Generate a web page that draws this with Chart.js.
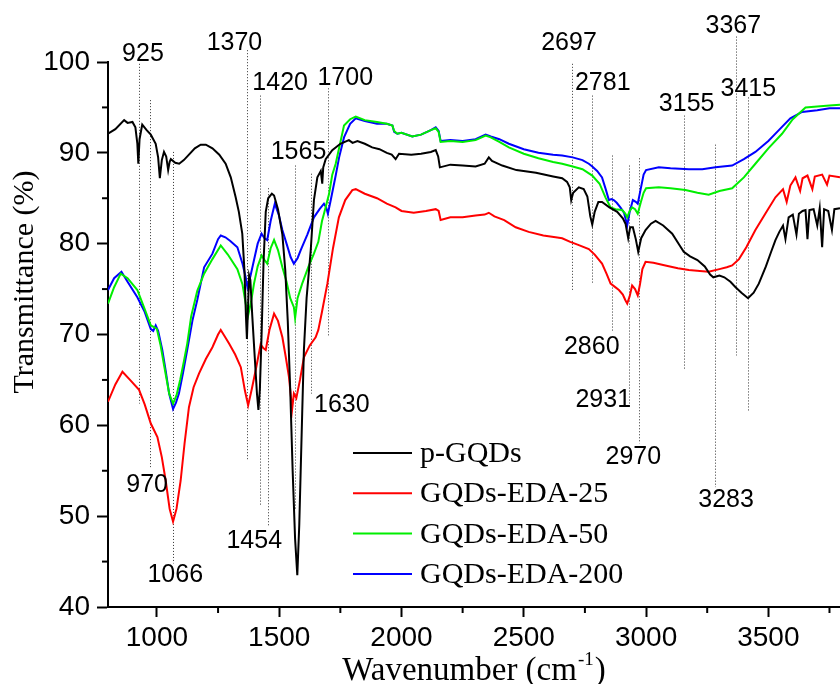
<!DOCTYPE html>
<html>
<head>
<meta charset="utf-8">
<script src="https://cdn.jsdelivr.net/npm/chart.js@4.4.0/dist/chart.umd.min.js"></script>
<style>
  html, body { margin: 0; padding: 0; background: #fff; }
  canvas { display: block; }
</style>
</head>
<body>
<canvas id="ftirChart" width="840" height="684"></canvas>
<script>
// FTIR spectra: wavenumber (cm-1) against transmittance (%)
const pgqdsWn = [800, 830, 866, 880, 900, 912, 920, 924, 929, 940, 958, 975, 995, 1005, 1012, 1020, 1029, 1038, 1046, 1052,
  1057, 1075, 1091, 1110, 1131, 1155, 1179, 1200, 1227, 1255, 1281, 1302, 1322, 1335, 1349, 1358, 1364, 1368, 1372, 1377,
  1382, 1390, 1400, 1409, 1415, 1421, 1428, 1436, 1445, 1455, 1470, 1479, 1495, 1513, 1525, 1535, 1545, 1555, 1565, 1574,
  1582, 1594, 1601, 1612, 1629, 1642, 1656, 1670, 1676, 1680, 1690, 1717, 1750, 1785, 1800, 1820, 1850, 1880, 1910, 1940,
  1960, 1976, 1990, 2040, 2080, 2120, 2140, 2150, 2157, 2200, 2250, 2303, 2340, 2357, 2370, 2412, 2470, 2550, 2620, 2657,
  2677, 2688, 2694, 2702, 2725, 2745, 2760, 2772, 2780, 2790, 2805, 2820, 2850, 2882, 2905, 2916, 2927, 2935, 2946, 2958,
  2968, 2980, 2998, 3020, 3039, 3070, 3107, 3135, 3154, 3180, 3210, 3240, 3262, 3275, 3300, 3320, 3345, 3366, 3390, 3417,
  3440, 3461, 3490, 3510, 3529, 3545, 3560, 3570, 3583, 3600, 3615, 3625, 3640, 3652, 3660, 3668, 3685, 3700, 3710, 3720,
  3728, 3745, 3760, 3770, 3793];
const pgqdsT = [92.1, 92.6, 93.6, 93.3, 93.4, 92.8, 91.0, 88.8, 91.5, 93.1, 92.5, 92.0, 91.0, 89.5, 87.2, 89.2, 90.1, 89.6, 88.1, 89.0,
  89.3, 88.9, 88.8, 89.2, 89.8, 90.5, 90.9, 90.9, 90.5, 89.8, 88.8, 87.3, 85.1, 83.5, 81.1, 77.0, 72.0, 69.5, 72.5, 76.5,
  76.0, 72.0, 67.5, 63.5, 61.7, 64.0, 70.0, 78.0, 83.5, 85.0, 85.5, 85.3, 83.8, 81.0, 77.0, 71.5, 64.0, 55.0, 47.5, 43.5,
  49.0, 61.3, 68.3, 74.0, 79.3, 84.8, 87.3, 88.0, 86.6, 88.4, 89.3, 90.3, 91.0, 91.4, 91.1, 91.3, 91.0, 90.6, 90.4, 90.0,
  89.8, 89.3, 89.9, 89.8, 89.9, 90.1, 90.3, 89.6, 88.4, 88.7, 88.6, 88.5, 88.8, 89.5, 89.1, 88.6, 88.1, 87.8, 87.4, 87.2,
  86.8, 86.2, 84.8, 85.6, 86.2, 86.0, 85.2, 83.0, 82.1, 83.5, 84.6, 84.6, 84.0, 83.5, 82.8, 82.2, 80.6, 81.8, 81.8, 80.5,
  79.1, 80.6, 81.5, 82.2, 82.5, 82.0, 81.1, 79.9, 79.1, 78.6, 78.2, 77.5, 76.6, 76.3, 76.5, 76.3, 75.8, 75.2, 74.6, 74.0,
  74.6, 75.6, 77.5, 79.0, 80.4, 81.3, 82.0, 80.5, 82.9, 83.2, 81.0, 83.3, 83.6, 83.7, 80.5, 83.7, 83.8, 82.0, 83.9, 79.6,
  83.8, 83.6, 81.5, 83.8, 83.9];

const eda25Wn = [800, 830, 859, 890, 927, 950, 975, 1002, 1020, 1036, 1052, 1066, 1080, 1097, 1113, 1131, 1150, 1172, 1200, 1227,
  1250, 1261, 1275, 1295, 1320, 1343, 1360, 1373, 1388, 1404, 1424, 1435, 1445, 1460, 1479, 1495, 1513, 1527, 1540, 1553,
  1560, 1570, 1585, 1601, 1625, 1649, 1660, 1675, 1697, 1720, 1744, 1770, 1799, 1813, 1850, 1900, 1940, 1976, 2000, 2050,
  2100, 2140, 2152, 2160, 2200, 2250, 2303, 2340, 2357, 2380, 2420, 2467, 2520, 2580, 2630, 2657, 2690, 2720, 2766, 2790,
  2820, 2840, 2855, 2870, 2889, 2905, 2915, 2923, 2933, 2943, 2955, 2966, 2975, 2985, 2998, 3030, 3079, 3130, 3175, 3220,
  3256, 3300, 3330, 3352, 3380, 3410, 3447, 3490, 3529, 3560, 3575, 3590, 3611, 3630, 3640, 3660, 3680, 3690, 3720, 3740,
  3750, 3793];
const eda25T = [62.6, 64.5, 65.9, 65.0, 63.9, 62.3, 60.2, 58.7, 56.5, 53.9, 50.8, 49.4, 50.8, 53.9, 58.0, 62.0, 64.2, 65.7, 67.3, 68.6,
  70.0, 70.5, 69.9, 69.0, 67.8, 66.4, 63.8, 62.2, 64.0, 66.1, 68.9, 68.5, 68.3, 70.5, 72.3, 71.5, 69.7, 67.5, 65.3, 61.8,
  63.5, 63.0, 65.0, 67.5, 68.8, 69.7, 70.5, 72.5, 75.6, 79.5, 82.9, 84.8, 85.9, 86.0, 85.5, 85.0, 84.4, 84.0, 83.6, 83.4,
  83.6, 83.8, 83.6, 82.6, 82.9, 82.9, 83.1, 83.2, 83.4, 83.0, 82.6, 81.8, 81.3, 80.9, 80.7, 80.6, 80.2, 79.9, 79.4, 78.8,
  77.8, 76.6, 75.6, 75.3, 74.9, 74.4, 73.8, 73.4, 74.2, 75.4, 75.0, 74.3, 75.5, 77.2, 78.0, 77.9, 77.6, 77.3, 77.1, 77.0,
  76.9, 77.2, 77.4, 77.6, 78.3, 79.6, 81.5, 83.4, 85.1, 86.0, 84.6, 86.4, 87.3, 85.8, 87.2, 87.5, 86.0, 87.4, 87.6, 86.5,
  87.5, 87.3];

const eda50Wn = [800, 825, 852, 880, 920, 950, 975, 990, 1000, 1015, 1030, 1050, 1066, 1080, 1095, 1110, 1124, 1140, 1165, 1193,
  1227, 1261, 1290, 1329, 1350, 1363, 1373, 1385, 1397, 1412, 1428, 1440, 1451, 1465, 1479, 1495, 1513, 1530, 1545, 1560,
  1565, 1575, 1594, 1620, 1642, 1660, 1675, 1683, 1704, 1717, 1731, 1765, 1790, 1813, 1850, 1900, 1940, 1963, 1970, 1983,
  2000, 2044, 2080, 2120, 2140, 2152, 2160, 2200, 2250, 2303, 2344, 2365, 2400, 2439, 2500, 2560, 2620, 2657, 2700, 2740,
  2780, 2810, 2834, 2855, 2875, 2902, 2915, 2923, 2933, 2943, 2955, 2966, 2978, 2990, 3000, 3052, 3100, 3161, 3210, 3256,
  3300, 3352, 3400, 3447, 3500, 3556, 3600, 3652, 3700, 3750, 3793];
const eda50T = [73.4, 75.2, 76.7, 76.2, 74.9, 72.8, 71.0, 70.8, 70.6, 68.8, 66.5, 63.5, 62.4, 63.3, 65.0, 67.0, 69.0, 72.0, 74.8, 76.7,
  78.3, 79.8, 78.8, 77.2, 75.5, 73.4, 72.1, 73.6, 75.6, 77.5, 78.7, 78.2, 77.8, 79.5, 80.4, 79.3, 77.4, 75.8, 74.0, 73.0,
  71.8, 74.0, 75.6, 77.5, 78.9, 80.2, 82.5, 83.3, 85.5, 87.6, 88.8, 93.0, 93.7, 94.0, 93.6, 93.4, 93.2, 93.0, 92.4, 92.1,
  92.2, 91.8, 92.0, 92.5, 92.7, 92.3, 91.2, 91.3, 91.2, 91.4, 91.9, 91.7, 91.2, 90.6, 89.9, 89.4, 89.0, 88.8, 88.5, 88.2,
  87.5, 86.6, 85.1, 84.0, 83.8, 83.7, 83.3, 82.9, 83.6, 84.0, 83.8, 83.3, 84.5, 85.6, 86.1, 86.2, 86.1, 85.9, 85.6, 85.4,
  85.8, 86.1, 87.3, 88.8, 90.5, 92.1, 93.7, 95.0, 95.1, 95.2, 95.3];

const eda200Wn = [800, 825, 855, 880, 920, 950, 975, 985, 995, 1005, 1022, 1036, 1050, 1066, 1078, 1090, 1107, 1124, 1145, 1165,
  1193, 1227, 1250, 1261, 1280, 1300, 1329, 1350, 1363, 1370, 1383, 1397, 1412, 1428, 1440, 1451, 1465, 1482, 1498, 1513,
  1530, 1547, 1560, 1575, 1588, 1615, 1642, 1665, 1683, 1692, 1699, 1710, 1731, 1745, 1765, 1790, 1813, 1850, 1900, 1940,
  1963, 1970, 1983, 2000, 2044, 2080, 2120, 2140, 2152, 2160, 2200, 2250, 2303, 2344, 2365, 2400, 2439, 2500, 2560, 2620,
  2657, 2700, 2740, 2766, 2780, 2800, 2820, 2835, 2848, 2858, 2868, 2880, 2895, 2910, 2923, 2933, 2946, 2958, 2966, 2978,
  2990, 3000, 3052, 3100, 3175, 3230, 3284, 3352, 3400, 3447, 3500, 3543, 3590, 3638, 3700, 3750, 3793];
const eda200T = [74.9, 76.2, 76.9, 75.8, 74.1, 72.5, 70.6, 70.4, 71.0, 70.4, 68.3, 66.0, 63.5, 61.8, 62.5, 63.5, 65.8, 68.3, 71.5, 73.8,
  77.4, 78.9, 80.5, 80.9, 80.7, 80.3, 79.6, 77.8, 76.3, 75.2, 76.5, 78.2, 80.0, 81.1, 80.6, 80.4, 82.5, 84.4, 83.2, 81.5,
  80.0, 78.5, 77.8, 78.4, 79.3, 81.0, 82.9, 83.8, 84.4, 84.0, 83.3, 84.7, 87.5, 89.5, 91.7, 93.2, 93.8, 93.5, 93.2, 93.2,
  93.0, 92.3, 92.1, 92.2, 91.8, 92.0, 92.5, 92.8, 92.4, 91.3, 91.4, 91.3, 91.5, 92.0, 91.8, 91.5, 91.0, 90.4, 90.0, 89.8,
  89.7, 89.5, 89.2, 88.8, 88.5, 88.0, 87.3, 86.0, 84.8, 84.9, 84.8, 84.5, 84.0, 83.4, 82.0, 83.5, 84.8, 84.6, 84.4, 86.0,
  87.6, 88.1, 88.4, 88.3, 88.2, 88.2, 88.4, 88.6, 89.3, 90.1, 91.3, 92.5, 93.8, 94.5, 94.7, 94.9, 94.9];

const seriesNames = ['p-GQDs', 'GQDs-EDA-25', 'GQDs-EDA-50', 'GQDs-EDA-200'];

// marked bands: wavenumber, dotted guide from top to bottom (%), label anchor (cm-1, %)
const peakWn = [925, 970, 1066, 1370, 1420, 1454, 1565, 1630, 1700, 2697, 2781, 2860, 2931, 2970, 3155, 3283, 3367, 3415];
const peakTop = [99.8, 95.8, 90.1, 101.3, 96.3, 86.1, 88.6, 87.7, 97.1, 99.8, 96.3, 89.7, 88.6, 89.4, 94.1, 90.9, 102.8, 96.1];
const peakBottom = [62.4, 55.4, 44.8, 56.1, 51.2, 49.0, 50.7, 63.5, 69.9, 74.7, 75.5, 70.4, 62.4, 58.0, 66.1, 53.2, 67.7, 61.6];
const labelWn = [943, 960, 1075, 1317, 1504, 1398, 1579, 1756, 1770, 2685, 2823, 2778, 2825, 2948, 3166, 3327, 3357, 3418];
const labelT = [100.9, 53.4, 43.5, 102.1, 97.7, 47.3, 90.1, 62.2, 98.2, 102.1, 97.7, 68.6, 62.8, 56.5, 95.4, 51.8, 104.0, 97.0];

const xMajor = [1000, 1500, 2000, 2500, 3000, 3500];
const xMinor = [1250, 1750, 2250, 2750, 3250, 3750];
const yMajor = [40, 50, 60, 70, 80, 90, 100];
const yMinor = [45, 55, 65, 75, 85, 95];

const lineColors = ['#000000', '#ff0000', '#00ee00', '#0000ff'];

function pairs(xs, ys) {
  return xs.map(function (x, i) { return { x: x, y: ys[i] }; });
}

const sansFont = '"Liberation Sans", Arial, sans-serif';
const serifFont = '"Liberation Serif", "Times New Roman", serif';

// dotted guides, band labels, minor ticks, legend and axis titles
const decorations = {
  id: 'decorations',
  beforeDatasetsDraw: function (chart) {
    const ctx = chart.ctx, xs = chart.scales.x, ys = chart.scales.y;
    ctx.save();
    ctx.strokeStyle = '#333';
    ctx.lineWidth = 1;
    ctx.setLineDash([1, 2]);
    peakWn.forEach(function (wn, i) {
      const px = Math.round(xs.getPixelForValue(wn)) + 0.5;
      ctx.beginPath();
      ctx.moveTo(px, ys.getPixelForValue(peakTop[i]));
      ctx.lineTo(px, ys.getPixelForValue(peakBottom[i]));
      ctx.stroke();
    });
    ctx.restore();
  },
  afterDraw: function (chart) {
    const ctx = chart.ctx, xs = chart.scales.x, ys = chart.scales.y, area = chart.chartArea;
    ctx.save();

    // band labels
    ctx.fillStyle = '#000';
    ctx.font = '25px ' + sansFont;
    ctx.textAlign = 'center';
    ctx.textBaseline = 'middle';
    peakWn.forEach(function (wn, i) {
      ctx.fillText(String(wn), xs.getPixelForValue(labelWn[i]), ys.getPixelForValue(labelT[i]));
    });

    // minor ticks
    ctx.strokeStyle = '#000';
    ctx.lineWidth = 2;
    xMinor.forEach(function (v) {
      const px = xs.getPixelForValue(v);
      ctx.beginPath();
      ctx.moveTo(px, area.bottom);
      ctx.lineTo(px, area.bottom + 6);
      ctx.stroke();
    });
    yMinor.forEach(function (v) {
      const py = ys.getPixelForValue(v);
      ctx.beginPath();
      ctx.moveTo(area.left, py);
      ctx.lineTo(area.left - 6, py);
      ctx.stroke();
    });

    // legend
    ctx.font = '30px ' + serifFont;
    ctx.textAlign = 'left';
    ctx.textBaseline = 'alphabetic';
    const legX = area.left + 245, legY = area.top + 391;
    chart.data.datasets.forEach(function (ds, i) {
      const y = legY + i * 40.3;
      ctx.strokeStyle = ds.borderColor;
      ctx.lineWidth = 2;
      ctx.beginPath();
      ctx.moveTo(legX, y);
      ctx.lineTo(legX + 59, y);
      ctx.stroke();
      ctx.fillText(ds.label, legX + 67, y + 9);
    });

    // y title
    ctx.save();
    ctx.translate(33, 282);
    ctx.rotate(-Math.PI / 2);
    ctx.textAlign = 'center';
    ctx.fillText('Transmittance (%)', 0, 0);
    ctx.restore();

    // x title with superscript
    const main = 'Wavenumber (cm', sup = '-1', tail = ')';
    ctx.font = '33px ' + serifFont;
    const wMain = ctx.measureText(main).width, wTail = ctx.measureText(tail).width;
    ctx.font = '19px ' + serifFont;
    const wSup = ctx.measureText(sup).width;
    let tx = (area.left + area.right) / 2 - (wMain + wSup + wTail + 2) / 2;
    const base = 680;
    ctx.textAlign = 'left';
    ctx.font = '33px ' + serifFont;
    ctx.fillText(main, tx, base);
    tx += wMain + 1;
    ctx.font = '19px ' + serifFont;
    ctx.fillText(sup, tx, base - 15);
    tx += wSup + 1;
    ctx.font = '33px ' + serifFont;
    ctx.fillText(tail, tx, base);

    ctx.restore();
  }
};

const datasets = [
  pairs(pgqdsWn, pgqdsT),
  pairs(eda25Wn, eda25T),
  pairs(eda50Wn, eda50T),
  pairs(eda200Wn, eda200T)
].map(function (data, i) {
  return {
    label: seriesNames[i],
    data: data,
    borderColor: lineColors[i],
    borderWidth: 2,
    pointRadius: 0,
    tension: 0,
    fill: false
  };
});

function plainLabel(value) { return String(value); }

const chart = new Chart(document.getElementById('ftirChart'), {
  type: 'line',
  data: { datasets: datasets },
  options: {
    responsive: false,
    devicePixelRatio: 1,
    animation: false,
    layout: { padding: { top: 62, right: 0, left: 0, bottom: 0 } },
    plugins: {
      legend: { display: false },
      tooltip: { enabled: false }
    },
    scales: {
      x: {
        type: 'linear',
        min: 800,
        max: 3793,
        afterBuildTicks: function (scale) {
          scale.ticks = xMajor.map(function (v) { return { value: v }; });
        },
        afterFit: function (scale) { scale.height = 77; },
        ticks: {
          color: '#000',
          font: { family: sansFont, size: 28 },
          padding: 4,
          maxRotation: 0,
          autoSkip: false,
          callback: plainLabel
        },
        grid: {
          drawOnChartArea: false,
          drawTicks: true,
          tickLength: 10,
          tickWidth: 2,
          tickColor: '#000'
        },
        border: { display: true, color: '#000', width: 2 }
      },
      y: {
        min: 40,
        max: 100,
        afterBuildTicks: function (scale) {
          scale.ticks = yMajor.map(function (v) { return { value: v }; });
        },
        afterFit: function (scale) { scale.width = 108; },
        ticks: {
          color: '#000',
          font: { family: sansFont, size: 28 },
          padding: 7,
          autoSkip: false,
          callback: plainLabel
        },
        grid: {
          drawOnChartArea: false,
          drawTicks: true,
          tickLength: 11,
          tickWidth: 2,
          tickColor: '#000'
        },
        border: { display: true, color: '#000', width: 2 }
      }
    }
  },
  plugins: [decorations]
});
</script>
</body>
</html>
